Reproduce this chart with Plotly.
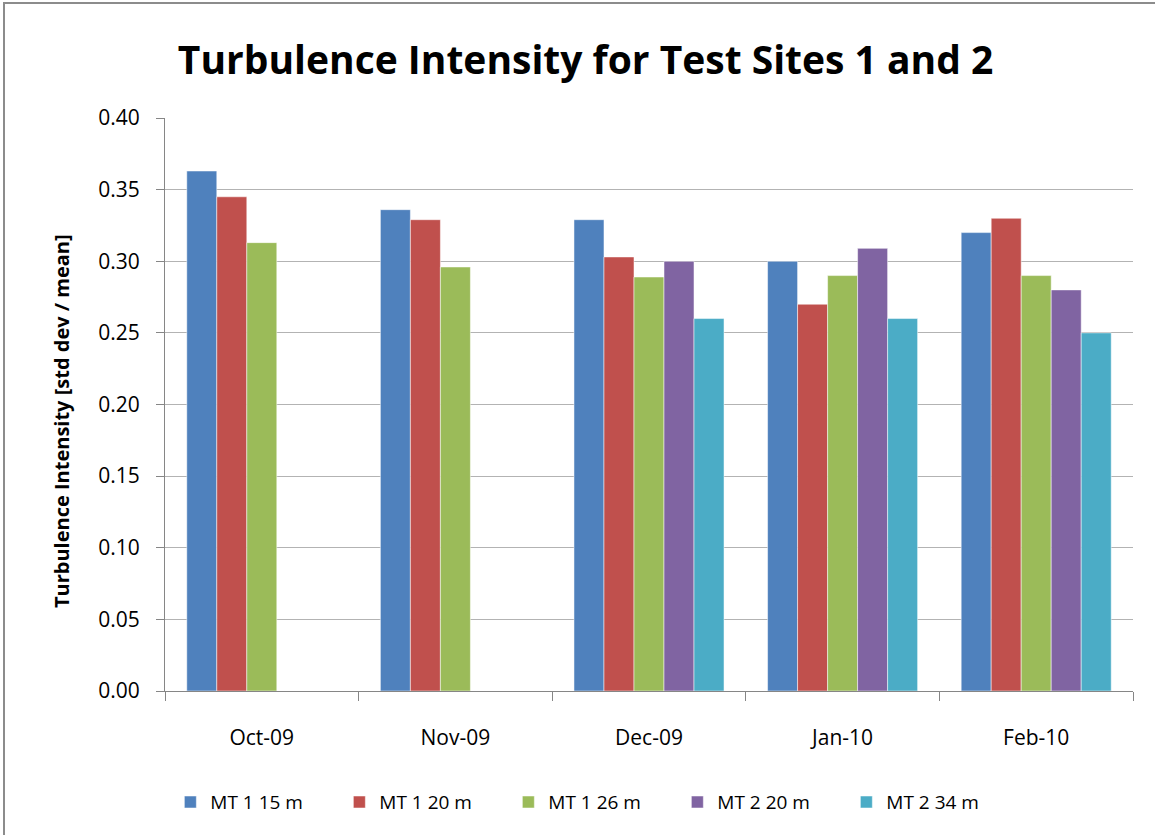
import plotly.graph_objects as go

meses = ['Oct-09', 'Nov-09', 'Dec-09', 'Jan-10', 'Feb-10']

mt1_15 = [0.363, 0.336, 0.329, 0.300, 0.320]
mt1_20 = [0.345, 0.329, 0.303, 0.270, 0.330]
mt1_26 = [0.313, 0.296, 0.289, 0.290, 0.290]
mt2_20 = [None, None, 0.300, 0.309, 0.280]
mt2_34 = [None, None, 0.260, 0.260, 0.250]

series = [
    ('MT 1 15 m', mt1_15, '#4F81BD'),
    ('MT 1 20 m', mt1_20, '#C0504D'),
    ('MT 1 26 m', mt1_26, '#9BBB59'),
    ('MT 2 20 m', mt2_20, '#8064A2'),
    ('MT 2 34 m', mt2_34, '#4BACC6'),
]

fonte = 'Open Sans, sans-serif'

fig = go.Figure()
for nome, valores, cor in series:
    fig.add_trace(go.Bar(
        x=meses, y=valores, name=nome,
        marker=dict(color=cor, line=dict(color='rgba(255,255,255,0.5)', width=1))
    ))

fig.update_layout(
    width=1155, height=835,
    barmode='group', bargap=0.225, bargroupgap=0,
    paper_bgcolor='white', plot_bgcolor='white',
    margin=dict(l=165, r=22, t=118, b=144),
    font=dict(family=fonte, color='black'),
    title=dict(text='<b>Turbulence Intensity for Test Sites 1 and 2</b>',
               x=0.507, xanchor='center', y=0.928, yanchor='middle',
               font=dict(size=39, family=fonte)),
    legend=dict(orientation='h', x=0.442, xanchor='center', y=-0.194, yanchor='middle',
                font=dict(size=19), itemwidth=30, traceorder='normal',
                entrywidth=124, entrywidthmode='pixels'),
    showlegend=True,
)

fig.update_xaxes(
    type='category', tickson='boundaries', ticks='outside', ticklen=9,
    tickcolor='#868686', showline=True, linecolor='#868686', linewidth=1,
    tickfont=dict(size=21), ticklabelstandoff=28, showgrid=False
)
fig.update_yaxes(
    range=[0, 0.4], dtick=0.05, tickformat='.2f', ticks='outside', ticklen=8,
    tickcolor='#868686', showline=True, linecolor='#868686', linewidth=1,
    showgrid=True, gridcolor='#B3B3B3', gridwidth=1, zeroline=False,
    tickfont=dict(size=21), ticklabelstandoff=12
)

# título do eixo y (um pouco abaixo do centro, como no original)
fig.add_annotation(text='<b>Turbulence Intensity [std dev / mean]</b>',
                   xref='paper', yref='paper', x=(61 - 165) / 968, y=(691 - 421) / 573,
                   textangle=-90, showarrow=False, font=dict(size=20),
                   xanchor='center', yanchor='middle')

# moldura do gráfico
fig.add_shape(type='rect', xref='paper', yref='paper',
              x0=(4 - 165) / 968, x1=1.2, y0=-0.4, y1=1 + (118 - 3) / 573,
              line=dict(color='#8C8C8C', width=2), fillcolor='rgba(0,0,0,0)',
              layer='below')

fig.write_html('out.html', config={'displayModeBar': False},
               post_script="document.body.style.margin='0';")
